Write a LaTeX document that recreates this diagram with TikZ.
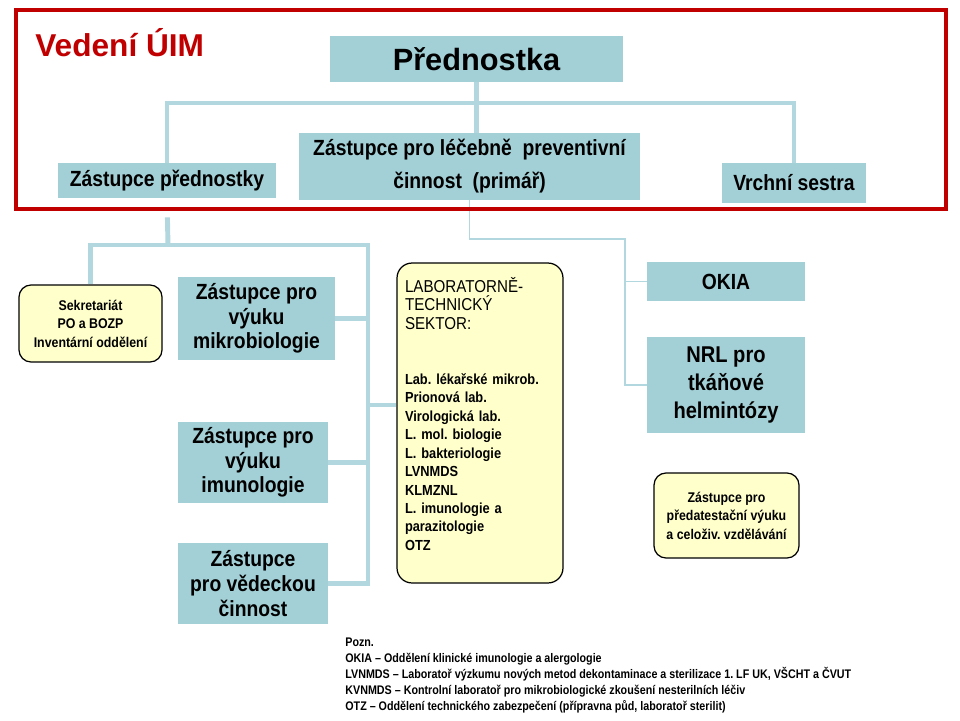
\documentclass[tikz,border=0pt]{standalone}
\usepackage{fontspec}
\setmainfont{Liberation Sans}
\newfontfamily\narrowface{Liberation Sans}[FakeStretch=0.88]
\newfontfamily\noteface{Liberation Sans}[FakeStretch=0.86]
\usepackage{tikz}
\usetikzlibrary{positioning}
\definecolor{uimred}{RGB}{192,0,0}
\definecolor{uimteal}{RGB}{162,208,214}
\definecolor{uimline}{RGB}{178,215,222}
\definecolor{uimyellow}{RGB}{255,255,204}
\frenchspacing

\begin{document}
\begin{tikzpicture}[x=0.02cm, y=-0.02cm,
    tealbox/.style={fill=uimteal, inner sep=0pt, align=center, font=\narrowface\bfseries\fontsize{12.5}{14}\selectfont},
    yellowbox/.style={draw=black, line width=0.7pt, fill=uimyellow, rounded corners=0.24cm, inner sep=0pt, align=center, font=\narrowface\bfseries\fontsize{8}{10.5}\selectfont},
    trunkline/.style={uimline, line width=2.8pt},
    thinline/.style={uimline, line width=0.8pt}]
    \useasboundingbox (0,0) rectangle (960,720);

    \node[anchor=base west, inner sep=0pt, text=uimred, font=\bfseries\fontsize{18}{20}\selectfont] (vedeni) at (35,56) {Vedení ÚIM};
    \node[tealbox, font=\bfseries\fontsize{17.5}{20}\selectfont, minimum width=5.86cm, minimum height=0.92cm] (pred) at (476.5,59) {Přednostka};
    \node[tealbox, minimum width=4.36cm, minimum height=0.7cm] (zpred) at (167,180.5) {Zástupce přednostky};
    \node[tealbox, font=\narrowface\bfseries\fontsize{12.5}{18.7}\selectfont, minimum width=6.82cm, minimum height=1.34cm] (zlpp) at (469.5,166.5) {Zástupce pro léčebně\ \ preventivní\\činnost\ \ (primář)};
    \node[tealbox, minimum width=2.88cm, minimum height=0.8cm] (vrch) at (794,183) {Vrchní sestra};

    \node[yellowbox, minimum width=2.86cm, minimum height=1.54cm] (sekr) at (90.5,323.5) {Sekretariát\\PO a BOZP\\Inventární oddělení};
    \node[tealbox, minimum width=3.14cm, minimum height=1.66cm] (mikro) at (256.5,318.5) {Zástupce pro\\výuku\\mikrobiologie};
    \node[tealbox, minimum width=3cm, minimum height=1.62cm] (imuno) at (253,462.5) {Zástupce pro\\výuku\\imunologie};
    \node[tealbox, minimum width=3cm, minimum height=1.62cm] (ved) at (253,583.5) {Zástupce\\pro vědeckou\\činnost};
    \node[yellowbox, rounded corners=0.3cm, minimum width=3.32cm, minimum height=6.4cm, text width=3cm, align=left, font=\narrowface\bfseries\fontsize{8.3}{10.5}\selectfont] (lab) at (480,423)
        {{\mdseries\fontsize{9.8}{10.5}\selectfont LABORATORNĚ-\\TECHNICKÝ\\SEKTOR:}\\[21pt]Lab. lékařské mikrob.\\Prionová lab.\\Virologická lab.\\L. mol. biologie\\L. bakteriologie\\LVNMDS\\KLMZNL\\L. imunologie a\\parazitologie\\OTZ\\\mbox{}};
    \node[tealbox, minimum width=3.16cm, minimum height=0.78cm] (okia) at (726,281.5) {OKIA};
    \node[tealbox, font=\narrowface\bfseries\fontsize{13}{16}\selectfont, minimum width=3.16cm, minimum height=1.92cm] (nrl) at (726,385) {NRL pro\\tkáňové\\helmintózy};
    \node[yellowbox, minimum width=2.9cm, minimum height=1.7cm] (atest) at (726.5,515.5) {Zástupce pro\\předatestační výuku\\a celoživ. vzdělávání};

    \node[anchor=north west, align=left, inner sep=0pt, font=\noteface\bfseries\fontsize{7.1}{9}\selectfont] (pozn) at (345,638)
        {Pozn.\\OKIA – Oddělení klinické imunologie a alergologie\\LVNMDS – Laboratoř výzkumu nových metod dekontaminace a sterilizace 1. LF UK, VŠCHT a ČVUT\\KVNMDS – Kontrolní laboratoř pro mikrobiologické zkoušení nesterilních léčiv\\OTZ – Oddělení technického zabezpečení (přípravna půd, laboratoř sterilit)};

    \coordinate (topbus) at (476.5,103);
    \coordinate (lowbus) at (168,245);
    \coordinate (labbus) at (368,245);
    \coordinate (okbus) at (625,239);

    \draw[trunkline] (pred.south) -- (topbus) -- (topbus |- zlpp.north);
    \draw[trunkline] (zpred.north) |- (topbus) -| (vrch.north);
    \draw[trunkline, shorten <=0.38cm] (zpred.south) -- (lowbus);
    \draw[trunkline] (sekr.north) |- (labbus) |- (ved.east);
    \draw[trunkline] (mikro.east) -- (mikro.east -| labbus);
    \draw[trunkline] (imuno.east) -- (imuno.east -| labbus);
    \draw[trunkline] ([yshift=0.36cm]lab.west) -- ([yshift=0.36cm]lab.west -| labbus);
    \draw[thinline] (zlpp.south) |- (okbus) |- (nrl.west);
    \draw[thinline] (okia.west) -- (okia.west -| okbus);

    \draw[uimred, line width=2.8pt] (16,10) rectangle (946,209);
\end{tikzpicture}
\end{document}
